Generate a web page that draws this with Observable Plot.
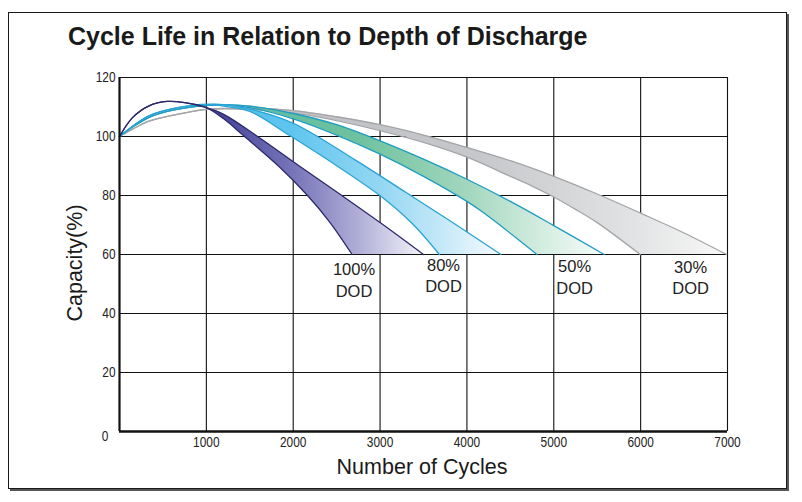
<!DOCTYPE html>
<html><head><meta charset="utf-8">
<script src="https://cdn.jsdelivr.net/npm/d3@7"></script>
<script src="https://cdn.jsdelivr.net/npm/@observablehq/plot@0.6"></script>
<style>
html,body{margin:0;padding:0;background:#fff;}
#wrap{position:relative;width:802px;height:502px;overflow:hidden;}
#frame{position:absolute;left:8px;top:12px;width:777px;height:475px;border:1.5px solid #1a1a1a;box-shadow:2px 2px 0 #555;}
#title{position:absolute;left:68px;top:22px;font:bold 25px "Liberation Sans",Arial,sans-serif;color:#1a1a1a;white-space:nowrap;}
.axlab{position:absolute;font:21.5px "Liberation Sans",Arial,sans-serif;color:#1a1a1a;white-space:nowrap;}
#ylab{left:75px;top:263px;transform:translate(-50%,-50%) rotate(-90deg);}
#xlab{left:422px;top:467px;transform:translate(-50%,-50%);}
#chart{position:absolute;left:0;top:0;}
</style></head><body>
<div id="wrap">
  <div id="frame"></div>
  <div id="title">Cycle Life in Relation to Depth of Discharge</div>
  <div id="chart"></div>
  <div class="axlab" id="ylab">Capacity(%)</div>
  <div class="axlab" id="xlab">Number of Cycles</div>
</div>
<script>
// tick labels
const xTicks = [1000, 2000, 3000, 4000, 5000, 6000, 7000];
const yTicks = [0, 20, 40, 60, 80, 100, 120];

// band edges: [cycles, capacity %]
const dod100Inner = [[0,100],[150,106.4],[340,110.4],[550,111.9],[750,111.5],[1000,109.8],[1200,106],[1420,100.5],[1830,90],[2165,80],[2420,71],[2678,60]];
const dod100Outer = [[0,100],[150,106.4],[340,110.4],[550,111.9],[750,111.5],[1000,109.8],[1200,107.5],[1590,100],[2070,90],[2560,80],[3040,70],[3500,60]];

const dod80Inner = [[0,100],[150,103.5],[340,107],[550,109],[800,110.4],[1000,110.9],[1200,110.3],[1500,108.5],[1950,100.5],[2428,91.5],[3020,79.5],[3370,70.5],[3683,60]];
const dod80Outer = [[0,100],[150,103.5],[340,107],[550,109],[800,110.4],[1000,110.9],[1200,110.8],[1500,109.3],[2000,104.5],[2716,92],[3300,81],[3800,71.5],[4392,60]];

const dod50Inner = [[0,100],[150,103.2],[340,106.5],[550,108.5],[800,109.9],[1000,110.5],[1200,110.7],[1500,109.8],[2000,106],[2500,100.5],[3000,94],[3500,86.5],[4000,78],[4200,74],[4400,69.5],[4807,60]];
const dod50Outer = [[0,100],[150,103.2],[340,106.5],[550,108.5],[800,109.9],[1000,110.5],[1200,110.8],[1500,110.3],[2000,107.8],[2500,104],[3000,98.5],[3500,92.3],[4000,85.5],[4500,78],[5000,69.8],[5581,60]];

const dod30Inner = [[0,100],[150,102.5],[340,105.2],[550,106.8],[800,108.3],[1000,109.2],[1500,109.2],[2000,107.9],[2500,105.4],[3000,102],[3500,98],[4000,93],[4500,86.5],[4750,83.2],[5000,79.5],[5250,75.3],[5500,70.8],[5995,60]];
const dod30Outer = [[0,100],[150,102.5],[340,105.2],[550,106.8],[800,108.3],[1000,109.2],[1500,109.6],[2000,108.8],[2500,106.7],[3000,104],[3500,100.5],[4000,96.3],[4500,91.8],[5000,86.5],[5500,80.5],[6000,74],[6500,67.3],[6990,60]];

// DOD labels
const dodLabels = ["100%\nDOD", "80%\nDOD", "50%\nDOD", "30%\nDOD"];
const dodLabelX = [2700, 3730, 5240, 6575];
const dodLabelY = [51.6, 53.1, 52.6, 52.4];

function band(inner, outer) {
  return inner.map((p, i) => ({x1: p[0], y1: p[1], x2: outer[i][0], y2: outer[i][1]}));
}
const bands = [
  {inner: dod30Inner, outer: dod30Outer, grad: "g30", stroke: "#a4a5a8"},
  {inner: dod50Inner, outer: dod50Outer, grad: "g50", stroke: "#1f9cc2"},
  {inner: dod80Inner, outer: dod80Outer, grad: "g80", stroke: "#27a3d5"},
  {inner: dod100Inner, outer: dod100Outer, grad: "g100", stroke: "#2c2a6c"}
];
const grads = {
  g100: [[0,"#38368a"],[0.35,"#4a489b"],[0.6,"#7d7bbc"],[0.78,"#aeacd6"],[1,"#f3f3f9"]],
  g80:  [[0,"#3cb5e6"],[0.45,"#5fc5ee"],[0.7,"#98d8f3"],[0.85,"#c6e9f8"],[1,"#f6fbfe"]],
  g50:  [[0,"#4db39c"],[0.5,"#6fc29f"],[0.72,"#a3d7bd"],[0.86,"#d0ebde"],[1,"#f7fcf9"]],
  g30:  [[0,"#b8b9bc"],[0.6,"#c7c8cb"],[0.85,"#e2e3e4"],[1,"#f8f8f8"]]
};

const marks = [
  Plot.ruleX(xTicks, {stroke: "#111", strokeWidth: 1.1}),
  Plot.ruleY(yTicks.filter(d => d > 0), {stroke: "#111", strokeWidth: 1.1})
];
for (const b of bands) {
  marks.push(Plot.area(band(b.inner, b.outer), {x1: "x1", y1: "y1", x2: "x2", y2: "y2", fill: `url(#${b.grad})`, curve: "catmull-rom"}));
  marks.push(Plot.line(b.inner, {x: d => d[0], y: d => d[1], stroke: b.stroke, strokeWidth: 1.3, curve: "catmull-rom"}));
  marks.push(Plot.line(b.outer, {x: d => d[0], y: d => d[1], stroke: b.stroke, strokeWidth: 1.3, curve: "catmull-rom"}));
}
const tickFont = "'Liberation Sans', Arial, sans-serif";
marks.push(
  Plot.ruleX([0], {stroke: "#111", strokeWidth: 2.2}),
  Plot.ruleY([0], {stroke: "#111", strokeWidth: 2.6}),
  Plot.axisX(xTicks, {tickSize: 0, tickPadding: 6, label: null, fontSize: 14, fontFamily: tickFont, tickFormat: d => String(d)}),
  Plot.axisY(yTicks.filter(d => d > 0), {tickSize: 0, tickPadding: 4, label: null, fontSize: 14, fontFamily: tickFont, tickFormat: d => String(d)}),
  Plot.text([0], {x: 0, y: 0, text: d => String(d), textAnchor: "end", dx: -11, dy: 5, fontSize: 14, fontFamily: tickFont, fill: "#222"}),
  Plot.text(dodLabels, {x: (d, i) => dodLabelX[i], y: (d, i) => dodLabelY[i], text: d => d, fontSize: 16.5, fill: "#222", lineHeight: 1.3})
);

const chart = Plot.plot({
  width: 802, height: 502,
  marginLeft: 119, marginRight: 75, marginTop: 77, marginBottom: 71,
  x: {domain: [0, 7000]},
  y: {domain: [0, 120]},
  style: {fontFamily: "'Liberation Sans', Arial, sans-serif", fontSize: "14px", color: "#222", background: "none", overflow: "visible"},
  marks
});
const svg = d3.select(chart);
const defs = svg.insert("defs", ":first-child");
for (const [id, stops] of Object.entries(grads)) {
  const lg = defs.append("linearGradient").attr("id", id).attr("x1", 0).attr("x2", 1).attr("y1", 0).attr("y2", 0);
  for (const [o, c] of stops) lg.append("stop").attr("offset", o).attr("stop-color", c);
}
document.getElementById("chart").appendChild(chart);
// condensed look for the tick labels
svg.selectAll('g[aria-label="x-axis tick label"] text, g[aria-label="y-axis tick label"] text')
  .each(function() { const w = this.getComputedTextLength(); d3.select(this).attr("textLength", w * 0.85).attr("lengthAdjust", "spacingAndGlyphs"); });
svg.selectAll("text").filter(function() { return this.textContent === "0"; })
  .each(function() { const w = this.getComputedTextLength(); d3.select(this).attr("textLength", w * 0.85).attr("lengthAdjust", "spacingAndGlyphs"); });
</script>
</body></html>
